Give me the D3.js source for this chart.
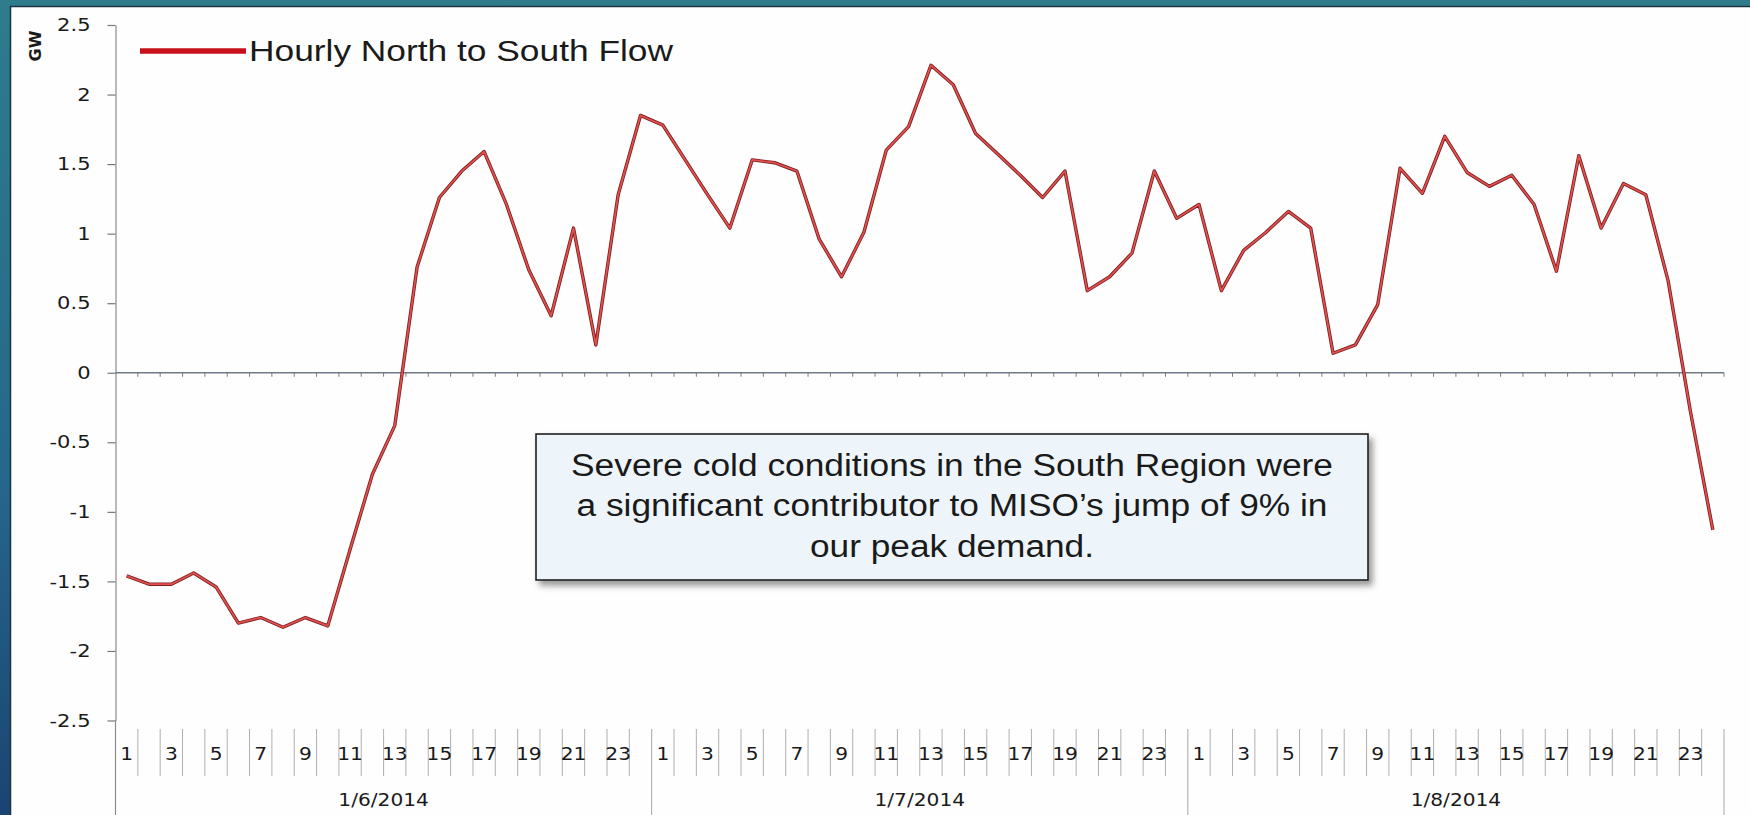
<!DOCTYPE html>
<html>
<head>
<meta charset="utf-8">
<script src="https://cdn.jsdelivr.net/npm/d3@7"></script>
<style>
html,body{margin:0;padding:0;background:#ffffff;overflow:hidden}
svg{display:block}
</style>
</head>
<body>
<svg id="chart" width="1750" height="815"></svg>
<script>
// ---------------- data ----------------
const days = ["1/6/2014", "1/7/2014", "1/8/2014"];
const hours = d3.range(1, 25);
const flow_1_6 = [-1.46, -1.52, -1.52, -1.44, -1.54, -1.80, -1.76, -1.83, -1.76, -1.82, -1.27, -0.73,
                  -0.38, 0.76, 1.26, 1.45, 1.59, 1.21, 0.74, 0.41, 1.04, 0.20, 1.28, 1.85];
const flow_1_7 = [1.78, 1.53, 1.28, 1.04, 1.53, 1.51, 1.45, 0.96, 0.69, 1.01, 1.60, 1.77,
                  2.21, 2.07, 1.72, 1.57, 1.42, 1.26, 1.45, 0.59, 0.69, 0.86, 1.45, 1.11];
const flow_1_8 = [1.21, 0.59, 0.88, 1.01, 1.16, 1.04, 0.14, 0.20, 0.49, 1.47, 1.29, 1.70,
                  1.44, 1.34, 1.42, 1.21, 0.73, 1.56, 1.04, 1.36, 1.28, 0.66, -0.28, -1.13];
const yTicks = [2.5, 2, 1.5, 1, 0.5, 0, -0.5, -1, -1.5, -2, -2.5];
const seriesName = "Hourly North to South Flow";
const yTitle = "GW";
const noteLines = ["Severe cold conditions in the South Region were",
                   "a significant contributor to MISO\u2019s jump of 9% in",
                   "our peak demand."];

// ---------------- setup ----------------
const W = 1750, H = 815;
const svg = d3.select("#chart");
const defs = svg.append("defs");

const bg = defs.append("linearGradient").attr("id", "bgGrad")
  .attr("x1", 0).attr("y1", 0).attr("x2", 0).attr("y2", 1);
bg.append("stop").attr("offset", "0%").attr("stop-color", "#2e7c8c");
bg.append("stop").attr("offset", "60%").attr("stop-color", "#26668a");
bg.append("stop").attr("offset", "100%").attr("stop-color", "#1a4472");

const shadow = defs.append("filter").attr("id", "shadow")
  .attr("x", "-5%").attr("y", "-10%").attr("width", "115%").attr("height", "130%");
shadow.append("feDropShadow").attr("dx", 4).attr("dy", 5).attr("stdDeviation", 3)
  .attr("flood-color", "#555").attr("flood-opacity", 0.6);

function stretch(sel, f) {
  sel.each(function () {
    const w = this.getComputedTextLength();
    this.setAttribute("textLength", w * f);
    this.setAttribute("lengthAdjust", "spacingAndGlyphs");
  });
}

// frame
svg.append("rect").attr("x", 0).attr("y", 0).attr("width", W).attr("height", H).attr("fill", "url(#bgGrad)");
svg.append("rect").attr("x", 10).attr("y", 6).attr("width", W - 10).attr("height", H - 6)
  .attr("fill", "#fefefe");
svg.append("line").attr("x1", 10).attr("x2", W).attr("y1", 6.5).attr("y2", 6.5)
  .attr("stroke", "#1c3344").attr("stroke-width", 1.5);
svg.append("line").attr("x1", 10.5).attr("x2", 10.5).attr("y1", 6).attr("y2", H)
  .attr("stroke", "#1c3344").attr("stroke-width", 1.5);

// ---------------- scales ----------------
const allValues = [flow_1_6, flow_1_7, flow_1_8];
const data = days.flatMap((d, di) => hours.map((h, hi) => ({
  key: d + "|" + h, day: d, hour: h, value: allValues[di][hi]
})));

const left = 115.5, right = 1724;
const x = d3.scaleBand().domain(data.map(d => d.key)).range([left, right]).padding(0);
const xDay = d3.scaleBand().domain(days).range([left, right]).padding(0);
const y = d3.scaleLinear().domain([-2.5, 2.5]).range([720.5, 25]);

const axisColor = "#8a8a8a";
const textColor = "#1a1a1a";
const tickFont = "'DejaVu Sans', Verdana, sans-serif";

// ---------------- y axis ----------------
const gy = svg.append("g").attr("transform", `translate(${left},0)`)
  .call(d3.axisLeft(y).tickValues(yTicks).tickSize(8).tickSizeOuter(0).tickPadding(17)
    .tickFormat(d => String(d)));
gy.select(".domain").attr("stroke", axisColor).attr("stroke-width", 1.2);
gy.selectAll(".tick line").attr("stroke", "#777").attr("stroke-width", 1.2);
gy.selectAll(".tick text").attr("fill", textColor)
  .style("font-family", tickFont).style("font-size", "17.5px");
stretch(gy.selectAll(".tick text"), 1.2);
// axis line continues through the label area
svg.append("line").attr("x1", left).attr("x2", left).attr("y1", y(-2.5)).attr("y2", H)
  .attr("stroke", axisColor).attr("stroke-width", 1.2);

// y title
svg.append("text").attr("transform", "translate(35,46) rotate(-90)")
  .attr("text-anchor", "middle").attr("dy", "0.36em")
  .style("font-family", tickFont).style("font-size", "16px")
  .style("font-weight", "bold").attr("fill", textColor).text(yTitle);

// ---------------- zero axis with category ticks ----------------
const y0 = y(0);
svg.append("line").attr("x1", left).attr("x2", right).attr("y1", y0).attr("y2", y0)
  .attr("stroke", "#6f7a86").attr("stroke-width", 1.5);
const boundaries = data.map(d => x(d.key)).concat([right]);
svg.append("g").selectAll("line").data(boundaries.slice(1)).join("line")
  .attr("x1", d => d).attr("x2", d => d).attr("y1", y0).attr("y2", y0 + 4)
  .attr("stroke", "#7a7a7a").attr("stroke-width", 1);

// ---------------- category label area ----------------
// hour cell separators
svg.append("g").selectAll("line").data(data.slice(1).filter(d => d.hour !== 1)).join("line")
  .attr("x1", d => x(d.key)).attr("x2", d => x(d.key))
  .attr("y1", 729).attr("y2", 776)
  .attr("stroke", "#b0b0b0").attr("stroke-width", 1);
// day separators
svg.append("g").selectAll("line").data(days.slice(1).concat(["end"])).join("line")
  .attr("x1", d => d === "end" ? right : xDay(d)).attr("x2", d => d === "end" ? right : xDay(d))
  .attr("y1", 729).attr("y2", H)
  .attr("stroke", "#a8a8a8").attr("stroke-width", 1);

// hour labels (odd hours)
const gx = svg.append("g").attr("transform", "translate(0,754)")
  .call(d3.axisBottom(x).tickValues(data.filter(d => d.hour % 2 === 1).map(d => d.key))
    .tickFormat(k => k.split("|")[1]).tickSize(0).tickPadding(0));
gx.select(".domain").remove();
gx.selectAll(".tick text").attr("y", 0).attr("dy", "0.36em").attr("fill", textColor)
  .style("font-family", tickFont).style("font-size", "18px");
stretch(gx.selectAll(".tick text"), 1.12);

// day labels
const gd = svg.append("g").attr("transform", "translate(0,800)")
  .call(d3.axisBottom(xDay).tickSize(0).tickPadding(0));
gd.select(".domain").remove();
gd.selectAll(".tick text").attr("y", 0).attr("dy", "0.36em").attr("fill", textColor)
  .style("font-family", tickFont).style("font-size", "18px");
stretch(gd.selectAll(".tick text"), 1.12);

// ---------------- series line ----------------
const line = d3.line().x(d => x(d.key) + x.bandwidth() / 2).y(d => y(d.value));
svg.append("path").datum(data).attr("d", line).attr("fill", "none")
  .attr("stroke", "#7a2020").attr("stroke-width", 3.4).attr("stroke-linejoin", "round");
svg.append("path").datum(data).attr("d", line).attr("fill", "none")
  .attr("stroke", "#e4504f").attr("stroke-width", 1.7).attr("stroke-linejoin", "round");

// ---------------- legend ----------------
svg.append("line").attr("x1", 140).attr("x2", 246).attr("y1", 51).attr("y2", 51)
  .attr("stroke", "#c8101a").attr("stroke-width", 5.5);
svg.append("text").attr("x", 249).attr("y", 61)
  .style("font-family", "'Liberation Sans', Arial, sans-serif").style("font-size", "29px")
  .attr("fill", textColor).attr("textLength", 424).attr("lengthAdjust", "spacingAndGlyphs")
  .text(seriesName);

// ---------------- callout ----------------
svg.append("rect").attr("x", 536).attr("y", 434).attr("width", 832).attr("height", 146)
  .attr("fill", "#eef5fa").attr("stroke", "#202020").attr("stroke-width", 1.6)
  .attr("filter", "url(#shadow)");
const noteWidths = [762, 751, 284];
const noteBase = [476, 516, 557];
svg.append("g").selectAll("text").data(noteLines).join("text")
  .attr("x", 952).attr("y", (d, i) => noteBase[i]).attr("text-anchor", "middle")
  .style("font-family", "'Liberation Sans', Arial, sans-serif").style("font-size", "31px")
  .attr("fill", textColor)
  .attr("textLength", (d, i) => noteWidths[i]).attr("lengthAdjust", "spacingAndGlyphs")
  .text(d => d);
</script>
</body>
</html>
